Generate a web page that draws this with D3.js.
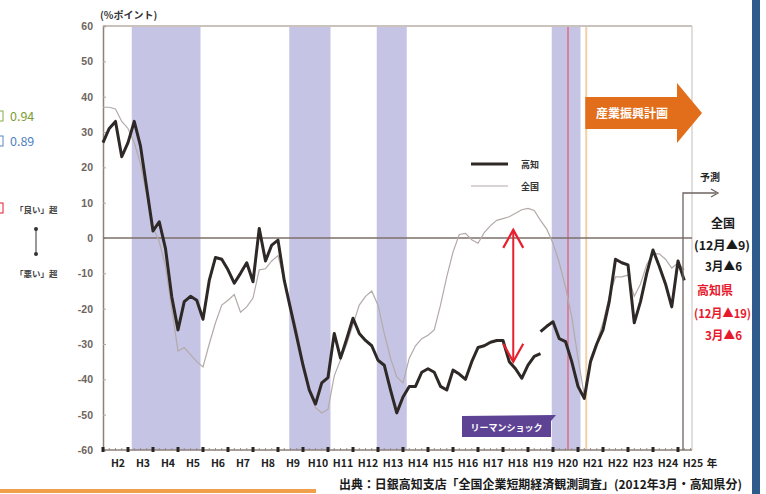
<!DOCTYPE html>
<html>
<head>
<meta charset="utf-8">
<script src="https://cdn.jsdelivr.net/npm/d3@7/dist/d3.min.js"></script>
<style>
  body { margin: 0; background: #fff; }
  svg { font-family: "Noto Sans CJK JP", "Noto Sans", sans-serif; }
</style>
</head>
<body>
<div id="chart"></div>
<script>

// quarterly DI values, first point = start of H2, 4 per year
var kochiOld = [27, 31, 33, 23, 27, 33, 26, 14, 2, 4.6, -3, -16.6, -26, -18, -16.5, -17.6,
    -23, -12, -5.5, -6, -9, -12.8, -10, -7, -12.4, 2.7, -6.5, -2, -0.6, -12, -20, -28,
    -36, -43, -47, -41, -39.5, -27, -34, -28.5, -22.7, -27, -29, -30.5, -34.6, -36, -43, -49.5,
    -45, -42, -42, -38, -37, -38, -42, -43, -37.4, -38.5, -40, -35, -31, -30.5, -29.5, -29,
    -29, -35, -37, -39.7, -36, -33.5, -32.7];
// after the survey revision (starts at the same quarter as the last old point)
var kochiNew = [-26.5, -25, -23.7, -28.5, -29.3, -35, -42, -45.4, -35, -30, -26, -18,
    -6, -7, -7.6, -24, -18, -10, -3.4, -8, -13, -19.5, -6.5, -12];
var kochiNewStart = 70;

var national = [37, 37, 36.5, 33, 31, 27, 21, 12, 3, -1, -8, -20, -32, -31, -33, -35,
    -36.5, -30, -24, -19, -17.6, -16, -21, -19.5, -17, -9, -8.7, -6.5, -5, -12, -19, -26,
    -35, -43.5, -48, -49.5, -48.5, -39, -34.5, -30, -24.5, -19, -16.5, -15, -19, -27, -34, -39.3,
    -41, -34, -30.5, -28.5, -27.5, -26, -19, -11, -4, 1, 1.3, -0.5, -1.5, 1.5, 3.5, 5,
    5.5, 6, 7, 8, 8.4, 7.8, 5, 2.5, -1.5, -7, -14, -22.3, -34, -44.5, -34, -29.5,
    -24, -16.5, -11, -11, -10.5, -16.5, -13, -7.5, -4.5, -4.5, -6, -8.5, -7, -9];

// recession periods (year units)
var bands = [[3.15, 5.9], [9.45, 11.1], [12.95, 14.15], [19.95, 21.1]];
var yearLabels = ["H2","H3","H4","H5","H6","H7","H8","H9","H10","H11","H12","H13",
    "H14","H15","H16","H17","H18","H19","H20","H21","H22","H23","H24","H25"];
var yTicks = [60, 50, 40, 30, 20, 10, 0, -10, -20, -30, -40, -50, -60];

var lehman = 20.6, planStart = 21.33, forecastAt = 25.2, plotEnd = 25.56;

var W = 766, H = 494;
var svg = d3.select("#chart").append("svg")
    .attr("width", W)
    .attr("height", H);

var x = d3.scaleLinear().domain([2, 26]).range([103, 703]);
var y = d3.scaleLinear().domain([-60, 60]).range([450, 26]);
function qt(i) { return 2 + i / 4; }

// bands
svg.selectAll(".band").data(bands).enter().append("rect")
    .attr("class", "band")
    .attr("x", function(d) { return x(d[0]); })
    .attr("width", function(d) { return x(d[1]) - x(d[0]); })
    .attr("y", y(60))
    .attr("height", y(-60) - y(60))
    .attr("fill", "#c6c4e4");

// lehman and plan lines
svg.append("line")
    .attr("x1", x(lehman)).attr("x2", x(lehman))
    .attr("y1", y(60)).attr("y2", y(-60))
    .attr("stroke", "#e0607a").attr("stroke-width", 1.3);
svg.append("line")
    .attr("x1", x(planStart)).attr("x2", x(planStart))
    .attr("y1", y(60)).attr("y2", y(-60))
    .attr("stroke", "#f3cfa8").attr("stroke-width", 2);

// frame
svg.append("line")
    .attr("x1", x(2)).attr("x2", x(plotEnd))
    .attr("y1", y(60)).attr("y2", y(60))
    .attr("stroke", "#c9c2bd").attr("stroke-width", 2);
svg.append("line")
    .attr("x1", x(plotEnd)).attr("x2", x(plotEnd))
    .attr("y1", y(60)).attr("y2", y(-60))
    .attr("stroke", "#cfc8c4").attr("stroke-width", 1.2);

// y axis
var yAxis = d3.axisLeft(y)
    .tickValues(yTicks)
    .tickSize(-3)
    .tickPadding(10)
    .tickFormat(function(d) { return d; });
var gy = svg.append("g")
    .attr("class", "axis")
    .attr("transform", "translate(" + x(2) + ",0)")
    .call(yAxis);
gy.select(".domain").attr("stroke", "#8d817b").attr("stroke-width", 1.5);
gy.selectAll(".tick line").attr("stroke", "#b0a8a4");
gy.selectAll("text")
    .attr("fill", "#6e6460")
    .style("font-size", "10.5px")
    .style("font-weight", "bold");

svg.append("text")
    .attr("x", 100).attr("y", 19)
    .attr("fill", "#333")
    .style("font-size", "10px")
    .style("font-weight", "bold")
    .text("(%ポイント)");

// zero line
svg.append("line")
    .attr("x1", x(2)).attr("x2", x(plotEnd))
    .attr("y1", y(0)).attr("y2", y(0))
    .attr("stroke", "#7d6f68").attr("stroke-width", 1.3);

// bottom axis with quarterly ticks
svg.append("line")
    .attr("x1", x(2)).attr("x2", x(plotEnd))
    .attr("y1", y(-60)).attr("y2", y(-60))
    .attr("stroke", "#8d817b").attr("stroke-width", 1.5);
var quarters = d3.range(0, 95);
svg.selectAll(".qtick").data(quarters).enter().append("line")
    .attr("x1", function(d) { return x(qt(d)); })
    .attr("x2", function(d) { return x(qt(d)); })
    .attr("y1", y(-60) - 2).attr("y2", y(-60) + 1)
    .attr("stroke", "#9a8f8a");
svg.selectAll(".ydot").data(d3.range(2, 26)).enter().append("rect")
    .attr("x", function(d) { return x(d) - 1.5; })
    .attr("y", y(-60) - 3)
    .attr("width", 3).attr("height", 5)
    .attr("fill", "#2a2422");
svg.selectAll(".xlab").data(yearLabels).enter().append("text")
    .attr("x", function(d, i) { return x(i + 2.6); })
    .attr("y", 467)
    .attr("text-anchor", "middle")
    .attr("fill", "#222")
    .style("font-size", "10.5px")
    .style("font-weight", "bold")
    .text(function(d) { return d; });
svg.append("text")
    .attr("x", 712).attr("y", 467)
    .attr("text-anchor", "middle")
    .attr("fill", "#222")
    .style("font-size", "10.5px")
    .style("font-weight", "bold")
    .text("年");

// lines
var line = d3.line()
    .x(function(d) { return x(d.t); })
    .y(function(d) { return y(d.v); });

svg.append("path")
    .datum(national.map(function(v, i) { return {t: qt(i), v: v}; }))
    .attr("d", line)
    .attr("fill", "none")
    .attr("stroke", "#b3aaa8")
    .attr("stroke-width", 1.2);

svg.append("path")
    .datum(kochiOld.map(function(v, i) { return {t: qt(i), v: v}; }))
    .attr("d", line)
    .attr("fill", "none")
    .attr("stroke", "#2e2826")
    .attr("stroke-width", 3)
    .attr("stroke-linejoin", "round");
svg.append("path")
    .datum(kochiNew.map(function(v, i) { return {t: qt(i + kochiNewStart), v: v}; }))
    .attr("d", line)
    .attr("fill", "none")
    .attr("stroke", "#2e2826")
    .attr("stroke-width", 3)
    .attr("stroke-linejoin", "round");

// legend
var legend = svg.append("g").attr("transform", "translate(471,164)");
legend.append("line").attr("x1", 0).attr("x2", 37).attr("y1", 0).attr("y2", 0)
    .attr("stroke", "#2e2826").attr("stroke-width", 3);
legend.append("line").attr("x1", 0).attr("x2", 37).attr("y1", 22).attr("y2", 22)
    .attr("stroke", "#b3aaa8").attr("stroke-width", 1.2);
legend.append("text").attr("x", 50).attr("y", 4).text("高知")
    .attr("fill", "#333").style("font-size", "9px").style("font-weight", "bold");
legend.append("text").attr("x", 50).attr("y", 26).text("全国")
    .attr("fill", "#333").style("font-size", "9px").style("font-weight", "bold");

// red gap arrow
var ax = 18.41, aTop = 2.3, aBot = -35;
svg.append("line")
    .attr("x1", x(ax)).attr("x2", x(ax))
    .attr("y1", y(aTop)).attr("y2", y(aBot))
    .attr("stroke", "#e8202e").attr("stroke-width", 2);
svg.append("path")
    .attr("d", "M" + (x(ax) - 10) + "," + (y(aTop) + 18) + "L" + x(ax) + "," + y(aTop) +
        "L" + (x(ax) + 10) + "," + (y(aTop) + 18))
    .attr("fill", "none").attr("stroke", "#e8202e").attr("stroke-width", 2.2);
svg.append("path")
    .attr("d", "M" + (x(ax) - 10) + "," + (y(aBot) - 18) + "L" + x(ax) + "," + y(aBot) +
        "L" + (x(ax) + 10) + "," + (y(aBot) - 18))
    .attr("fill", "none").attr("stroke", "#e8202e").attr("stroke-width", 2.2);

// Lehman label
var lx0 = 462, lx1 = 551, ly0 = 416, ly1 = 437;
svg.append("path")
    .attr("d", "M" + lx0 + "," + ly0 + "L" + (lx1 + 5) + "," + (ly0 - 1) + "L" + lx1 + "," + (ly0 + 5) +
        "L" + lx1 + "," + ly1 + "L" + lx0 + "," + ly1 + "Z")
    .attr("fill", "#5e4394");
svg.append("text")
    .attr("x", (lx0 + lx1) / 2).attr("y", 430.5)
    .attr("text-anchor", "middle")
    .attr("fill", "#fff")
    .style("font-size", "9px")
    .style("font-weight", "bold")
    .text("リーマンショック");

// industry plan arrow
var px0 = x(planStart) - 1, px1 = 677, ptip = 702;
svg.append("path")
    .attr("d", "M" + px0 + ",97L" + px1 + ",97L" + px1 + ",83L" + ptip + ",113L" + px1 + ",143L" +
        px1 + ",129L" + px0 + ",129Z")
    .attr("fill", "#e26e1c");
svg.append("text")
    .attr("x", 632).attr("y", 118)
    .attr("text-anchor", "middle")
    .attr("fill", "#fff")
    .style("font-size", "12px")
    .style("font-weight", "bold")
    .text("産業振興計画");

// forecast bracket
svg.append("path")
    .attr("d", "M" + x(forecastAt) + "," + y(-60) + "L" + x(forecastAt) + ",193L716,193")
    .attr("fill", "none").attr("stroke", "#6e6460").attr("stroke-width", 1.3);
svg.append("path")
    .attr("d", "M711,189L718,193L711,197")
    .attr("fill", "none").attr("stroke", "#6e6460").attr("stroke-width", 1.3);
svg.append("text")
    .attr("x", 710).attr("y", 181)
    .attr("text-anchor", "middle")
    .attr("fill", "#222")
    .style("font-size", "10px")
    .style("font-weight", "bold")
    .text("予測");

// right notes
var notes = [
    {t: "全国", x: 694, y: 228, w: 0, c: "#1a1a1a", dx: 17},
    {t: "(12月▲9)", x: 694, y: 250, w: 56, c: "#1a1a1a", dx: 0},
    {t: "3月▲6", x: 694, y: 271, w: 37, c: "#1a1a1a", dx: 11},
    {t: "高知県", x: 694, y: 295, w: 0, c: "#e8192c", dx: 3},
    {t: "(12月▲19)", x: 694, y: 318, w: 57, c: "#e8192c", dx: 0},
    {t: "3月▲6", x: 694, y: 340, w: 37, c: "#e8192c", dx: 11}
];
svg.selectAll(".note").data(notes).enter().append("text")
    .attr("x", function(d) { return d.x + d.dx; })
    .attr("y", function(d) { return d.y; })
    .attr("fill", function(d) { return d.c; })
    .attr("textLength", function(d) { return d.w || null; })
    .attr("lengthAdjust", "spacingAndGlyphs")
    .style("font-size", "12px")
    .style("font-weight", "bold")
    .text(function(d) { return d.t; });

// blue side bar
svg.append("rect")
    .attr("x", 752).attr("y", 0)
    .attr("width", 8).attr("height", H)
    .attr("fill", "#2f5b8c");

// cut-off items on the left
svg.append("rect").attr("x", -3).attr("y", 111).attr("width", 6).attr("height", 10)
    .attr("fill", "none").attr("stroke", "#8aa84a");
svg.append("text").attr("x", 10).attr("y", 121).text("0.94")
    .attr("fill", "#7c9c36").style("font-size", "12.5px");
svg.append("rect").attr("x", -3).attr("y", 136).attr("width", 6).attr("height", 10)
    .attr("fill", "none").attr("stroke", "#5a86c4");
svg.append("text").attr("x", 10).attr("y", 146).text("0.89")
    .attr("fill", "#4f7fc0").style("font-size", "12.5px");
svg.append("rect").attr("x", -3).attr("y", 203).attr("width", 6).attr("height", 10)
    .attr("fill", "none").attr("stroke", "#e8192c");
svg.append("text").attr("x", 15).attr("y", 213).text("「良い」超")
    .attr("fill", "#444").style("font-size", "8.5px").style("font-weight", "bold");
svg.append("text").attr("x", 15).attr("y", 277).text("「悪い」超")
    .attr("fill", "#444").style("font-size", "8.5px").style("font-weight", "bold");
svg.append("line").attr("x1", 36).attr("x2", 36).attr("y1", 229).attr("y2", 254)
    .attr("stroke", "#555").attr("stroke-width", 1.2);
svg.selectAll(".dumb").data([229, 254]).enter().append("circle")
    .attr("cx", 36).attr("cy", function(d) { return d; }).attr("r", 2)
    .attr("fill", "#333");

// source & bottom orange rule
svg.append("text")
    .attr("x", 339).attr("y", 489)
    .attr("fill", "#1a1a1a")
    .attr("textLength", 403)
    .attr("lengthAdjust", "spacingAndGlyphs")
    .style("font-size", "12px")
    .style("font-weight", "bold")
    .text("出典：日銀高知支店「全国企業短期経済観測調査」(2012年3月・高知県分)");
svg.append("line")
    .attr("x1", 0).attr("x2", 316).attr("y1", 491).attr("y2", 491)
    .attr("stroke", "#f0a04a").attr("stroke-width", 4);

</script>
</body>
</html>
